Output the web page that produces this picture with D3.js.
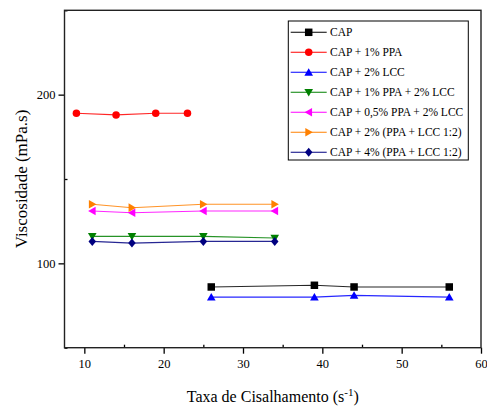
<!DOCTYPE html>
<html>
<head>
<meta charset="utf-8">
<script src="https://cdn.jsdelivr.net/npm/d3@7/dist/d3.min.js"></script>
<style>
html,body{margin:0;padding:0;background:#fff;}
svg{display:block;}
svg text{font-family:"Liberation Serif","Times New Roman",serif !important;fill:#000;}
</style>
</head>
<body>
<svg id="chart" width="487" height="410"></svg>
<script>
const seriesNames = ["CAP","CAP + 1% PPA","CAP + 2% LCC","CAP + 1% PPA + 2% LCC","CAP + 0,5% PPA + 2% LCC","CAP + 2% (PPA + LCC 1:2)","CAP + 4% (PPA + LCC 1:2)"];
const seriesColors = ["#000000","#ff0000","#0000ff","#008000","#ff00ff","#ff8000","#000080"];
const seriesSymbols = ["square","circle","triangleUp","triangleDown","triangleLeft","triangleRight","diamond"];
const capX = [26,39,44,56], capY = [86,87,86,86];
const ppaX = [9,14,19,23], ppaY = [189,188,189,189];
const lccX = [26,39,44,56], lccY = [80,80,81,80];
const mixAX = [11,16,25,34], mixAY = [116,116,116,115];
const mixBX = [11,16,25,34], mixBY = [131,130,131,131];
const mixCX = [11,16,25,34], mixCY = [135,133,135,135];
const mixDX = [11,16,25,34], mixDY = [113,112,113,113];
const xTicks = [10,20,30,40,50,60];
const xMinorTicks = [15,25,35,45,55];
const yTicks = [100,200];
const yMinorTicks = [50,150,250];
const xTitle = "Taxa de Cisalhamento (s";
const yTitle = "Viscosidade (mPa.s)";

const seriesX = [capX, ppaX, lccX, mixAX, mixBX, mixCX, mixDX];
const seriesY = [capY, ppaY, lccY, mixAY, mixBY, mixCY, mixDY];
const data = seriesNames.map((n,i)=>({name:n,color:seriesColors[i],sym:seriesSymbols[i],
  pts:seriesX[i].map((x,j)=>({x:x,y:seriesY[i][j]}))}));

const FONT = '"Liberation Serif","Times New Roman",serif';
const svg = d3.select("#chart");
const L=64.5, R=481, T=10.3, B=347.7;
const x = d3.scaleLinear().domain([7.5,60]).range([L,R]);
const y = d3.scaleLinear().domain([50,250]).range([B,T]);

function symPath(sym, s){
  const h=s/2;
  switch(sym){
    case "square": return `M${-h},${-h}H${h}V${h}H${-h}Z`;
    case "triangleUp": return `M0,${-h*1.1}L${h*1.15},${h*0.9}L${-h*1.15},${h*0.9}Z`;
    case "triangleDown": return `M0,${h*1.1}L${h*1.15},${-h*0.9}L${-h*1.15},${-h*0.9}Z`;
    case "triangleLeft": return `M${-h*1.1},0L${h*0.9},${-h*1.15}L${h*0.9},${h*1.15}Z`;
    case "triangleRight": return `M${h*1.1},0L${-h*0.9},${-h*1.15}L${-h*0.9},${h*1.15}Z`;
    case "diamond": return `M0,${-h*1.2}L${h*1.0},0L0,${h*1.2}L${-h*1.0},0Z`;
    case "circle": return `M${h},0A${h},${h} 0 1,1 ${-h},0A${h},${h} 0 1,1 ${h},0Z`;
  }
}

// axes
const axisColor="#000";
const gx = svg.append("g").attr("transform",`translate(0,${B})`)
  .call(d3.axisBottom(x).tickValues(xTicks).tickSize(6).tickPadding(3).tickFormat(d3.format("d")));
const gxm = svg.append("g").attr("transform",`translate(0,${B})`)
  .call(d3.axisTop(x).tickValues(xMinorTicks).tickSize(3).tickFormat(""));
const gy = svg.append("g").attr("transform",`translate(${L},0)`)
  .call(d3.axisLeft(y).tickValues(yTicks).tickSize(6).tickPadding(3).tickFormat(d3.format("d")));
const gym = svg.append("g").attr("transform",`translate(${L},0)`)
  .call(d3.axisRight(y).tickValues(yMinorTicks).tickSize(3).tickFormat(""));
[gx,gxm,gy,gym].forEach(g=>{
  g.attr("font-family",FONT);
  g.select(".domain").remove();
  g.selectAll(".tick line").attr("stroke",axisColor).attr("stroke-width",1.3);
  g.selectAll("text").style("font-family",FONT).style("font-size","12.5px").attr("fill","#000");
});
gx.selectAll("text").attr("dy","0.9em");

// frame
svg.append("rect").attr("x",L).attr("y",T).attr("width",R-L).attr("height",B-T)
  .attr("fill","none").attr("stroke","#222").attr("stroke-width",1.4);

// series
const line = d3.line().x(d=>x(d.x)).y(d=>y(d.y));
data.forEach(s=>{
  svg.append("path").datum(s.pts).attr("d",line).attr("fill","none")
    .attr("stroke",s.color).attr("stroke-width",1.1).attr("stroke-opacity",0.85);
  svg.selectAll(null).data(s.pts).enter().append("path")
    .attr("d",symPath(s.sym,7.5))
    .attr("transform",d=>`translate(${x(d.x)},${y(d.y)})`)
    .attr("fill",s.color);
});

// legend
const lg = svg.append("g");
lg.append("rect").attr("x",288.3).attr("y",21).attr("width",180).attr("height",139)
  .attr("fill","#fff").attr("stroke","#000").attr("stroke-width",1);
data.forEach((s,i)=>{
  const cy = 32.3 + i*20;
  lg.append("line").attr("x1",290.7).attr("x2",326.7).attr("y1",cy).attr("y2",cy)
    .attr("stroke",s.color).attr("stroke-width",1.1);
  lg.append("path").attr("d",symPath(s.sym,7.5)).attr("transform",`translate(308.7,${cy})`).attr("fill",s.color);
  lg.append("text").attr("x",330).attr("y",cy).attr("dy","0.35em")
    .style("font-family",FONT).style("font-size","11.5px").text(s.name);
});

// titles
const xt = svg.append("text").attr("x",(L+R)/2).attr("y",402).attr("text-anchor","middle")
  .style("font-family",FONT).style("font-size","16px");
xt.append("tspan").text(xTitle);
xt.append("tspan").attr("dy","-6").style("font-size","11px").text("-1");
xt.append("tspan").attr("dy","6").text(")");
svg.append("text").attr("transform",`translate(27,${(T+B)/2}) rotate(-90)`).attr("text-anchor","middle")
  .style("font-family",FONT).style("font-size","17px").text(yTitle);
</script>
</body>
</html>
